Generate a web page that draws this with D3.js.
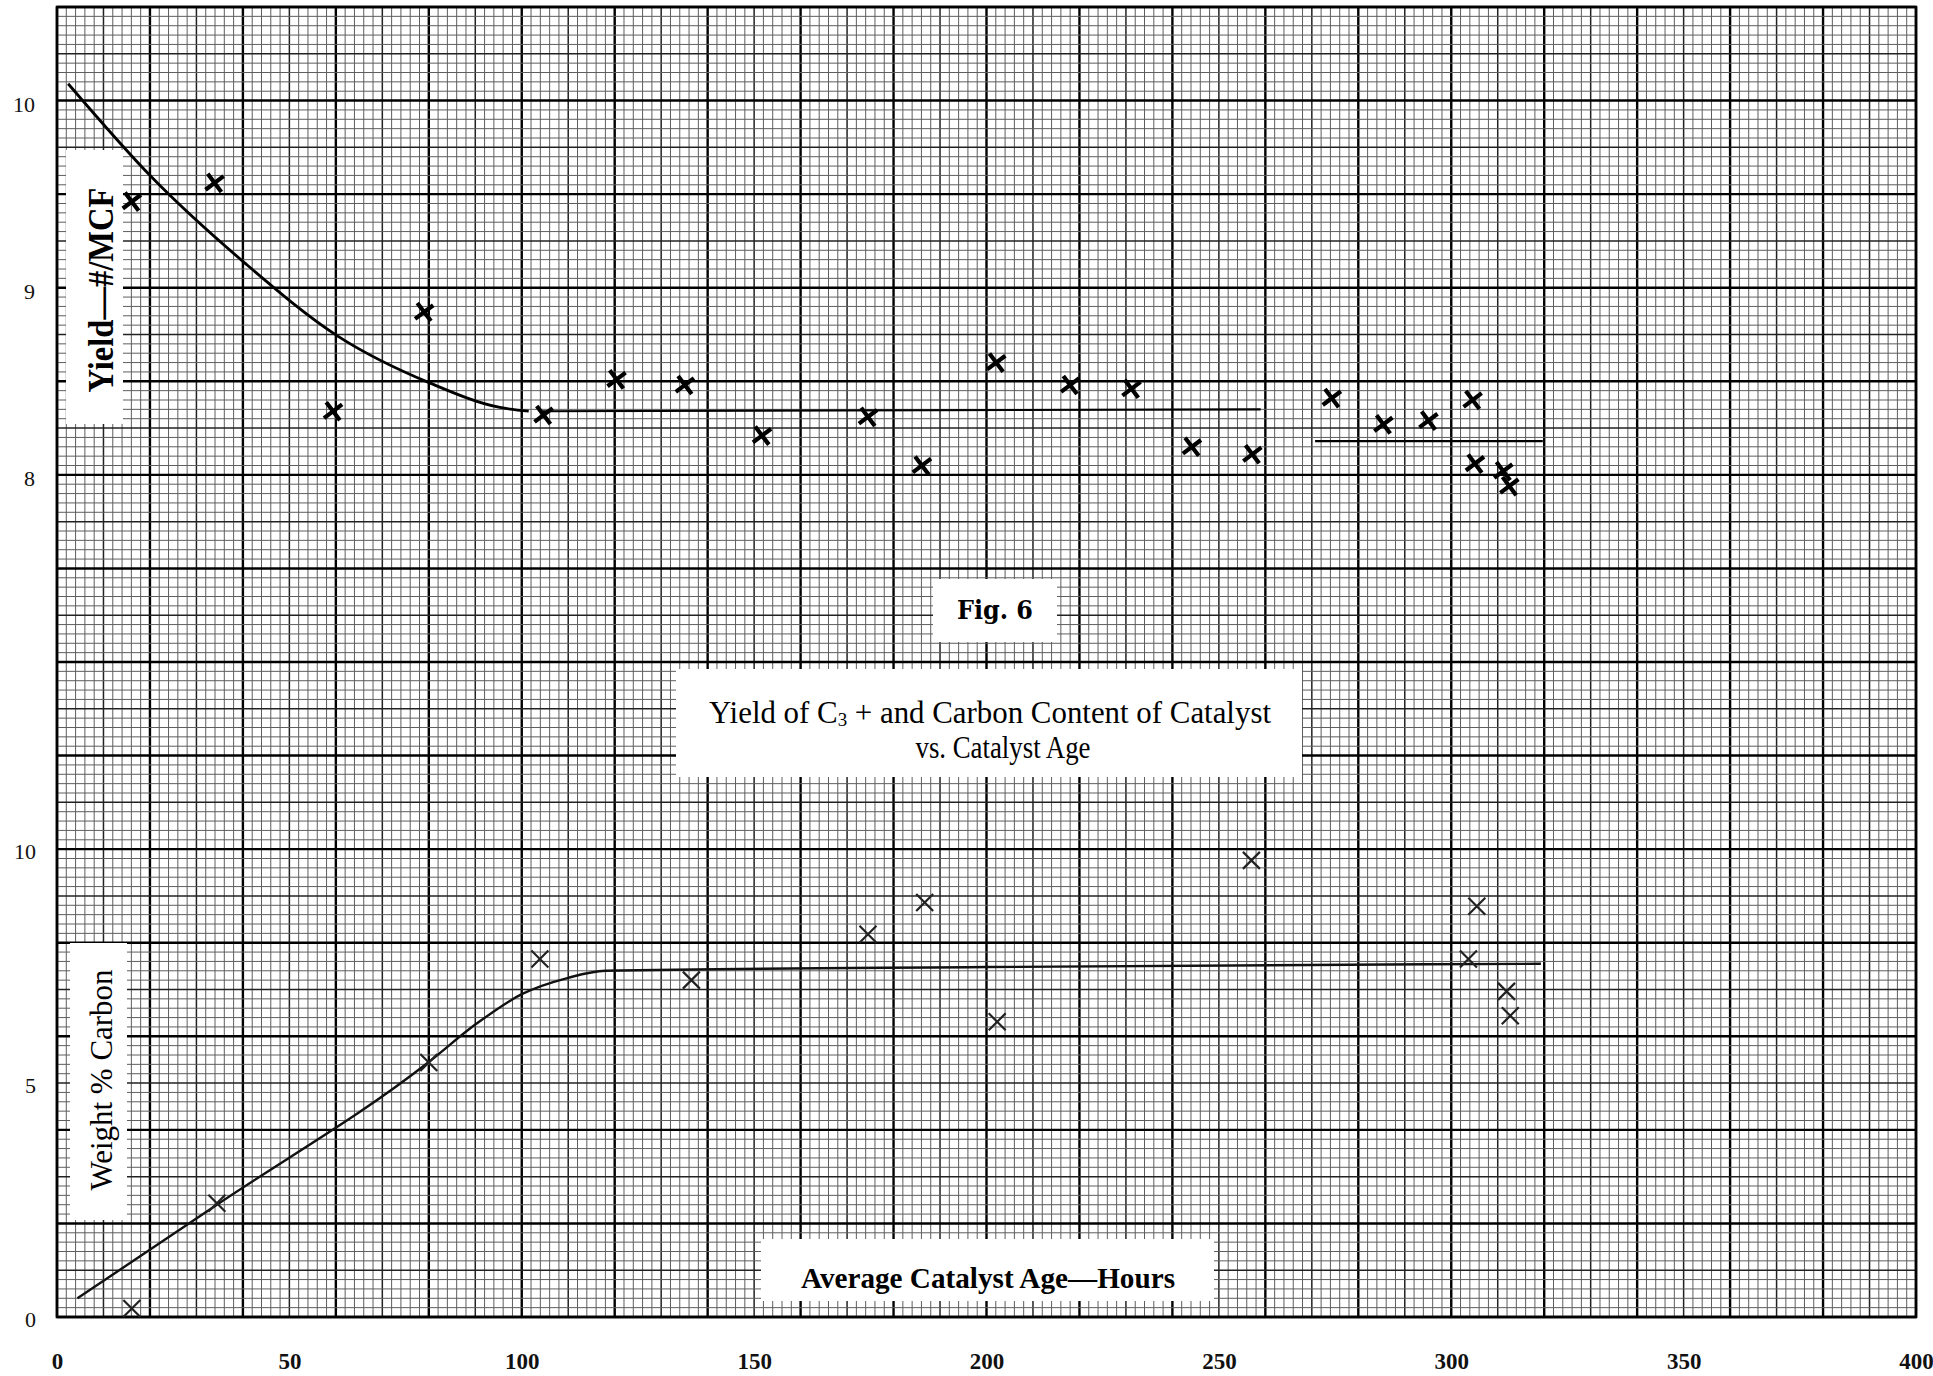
<!DOCTYPE html>
<html>
<head>
<meta charset="utf-8">
<script src="https://cdn.jsdelivr.net/npm/d3@7"></script>
<style>
  body { margin: 0; background: #fff; }
  svg { display: block; }
</style>
</head>
<body>
<div id="chart"></div>
<script>
// Catalyst age (hours) and yield of C3+ (#/MCF)
var ageYield = [16.1, 33.9, 59.4, 79.0, 104.7, 120.4, 135.1, 151.7, 174.5, 186.1, 202.1,
                218.0, 231.2, 244.2, 257.2, 274.3, 285.4, 295.1, 304.6, 305.1, 311.2, 312.5];
var yieldVals = [9.46, 9.56, 8.34, 8.87, 8.32, 8.51, 8.48, 8.21, 8.31, 8.05, 8.60,
                 8.48, 8.46, 8.15, 8.11, 8.41, 8.27, 8.29, 8.40, 8.06, 8.02, 7.94];

// Catalyst age (hours) and weight % carbon
var ageCarbon = [16.1, 34.4, 80.0, 103.9, 136.5, 174.5, 186.7, 202.3, 257.0, 303.7, 305.5, 311.9, 312.7];
var carbonVals = [0.18, 2.43, 5.44, 7.65, 7.20, 8.18, 8.86, 6.31, 9.76, 7.65, 8.78, 6.96, 6.44];

// hand drawn fit lines
var yieldCurveAge = [2.4, 20.4, 40.5, 60.5, 80.3, 95.3, 101.5];
var yieldCurveVals = [10.09, 9.59, 9.13, 8.74, 8.49, 8.36, 8.34];
var yieldFlatAge = [104.5, 259];
var yieldFlatVals = [8.34, 8.35];
var yieldLateAge = [270.7, 319.7];
var yieldLateVals = [8.18, 8.18];
var carbonCurveAge = [4.4, 34.4, 80, 90, 100, 110, 118, 200, 319.3];
var carbonCurveVals = [0.40, 2.40, 5.45, 6.25, 6.90, 7.25, 7.40, 7.48, 7.55];

// tick labels
var xTicks = [0, 50, 100, 150, 200, 250, 300, 350, 400];
var yieldTicks = [8, 9, 10];
var carbonTicks = [0, 5, 10];

var W = 1933, H = 1376;
var paper = {left: 57, right: 1916, top: 7, bottom: 1317};

var svg = d3.select("#chart")
            .append("svg")
            .attr("width", W)
            .attr("height", H);

svg.append("rect").attr("width", W).attr("height", H).attr("fill", "#fff");

// one major square of the paper = 20 hours, 0.5 #/MCF, 2 % carbon
var xScale = d3.scaleLinear().domain([0, 400]).range([paper.left, paper.right]);
var yieldScale = d3.scaleLinear().domain([3.5, 10.5]).range([paper.bottom, paper.top]);
var carbonScale = d3.scaleLinear().domain([0, 28]).range([paper.bottom, paper.top]);
var rowScale = d3.scaleLinear().domain([0, 140]).range([paper.bottom, paper.top]);

// graph paper: 10 small squares per major, heavier line at every 5th
function lineStyle(sel, idx) {
    sel.attr("stroke", idx % 10 == 0 ? "#000" : (idx % 5 == 0 ? "#222" : "#5e5e5e"))
       .attr("stroke-width", idx % 10 == 0 ? 2.4 : (idx % 5 == 0 ? 1.5 : 1));
}
var grid = svg.append("g").attr("class", "paper");
var cols = d3.range(0, 201);
var rows = d3.range(0, 141);
grid.selectAll(".vline")
    .data(cols)
    .enter()
    .append("line")
    .attr("x1", d => xScale(d * 2))
    .attr("x2", d => xScale(d * 2))
    .attr("y1", paper.top)
    .attr("y2", paper.bottom)
    .each(function(d){ lineStyle(d3.select(this), d) });
grid.selectAll(".hline")
    .data(rows)
    .enter()
    .append("line")
    .attr("x1", paper.left)
    .attr("x2", paper.right)
    .attr("y1", d => rowScale(d))
    .attr("y2", d => rowScale(d))
    .each(function(d){ lineStyle(d3.select(this), d) });
grid.append("rect")
    .attr("x", paper.left).attr("y", paper.top)
    .attr("width", paper.right - paper.left)
    .attr("height", paper.bottom - paper.top)
    .attr("fill", "none").attr("stroke", "#000").attr("stroke-width", 2.6);

// pasted white label boxes
var boxes = [
    {x: 66, y: 150, w: 57, h: 274},
    {x: 70, y: 943, w: 57, h: 277},
    {x: 933, y: 579, w: 124, h: 63},
    {x: 676, y: 669, w: 626, h: 108},
    {x: 761, y: 1239, w: 453, h: 62}
];
svg.append("g")
   .selectAll("rect")
   .data(boxes)
   .enter()
   .append("rect")
   .attr("x", d => d.x).attr("y", d => d.y)
   .attr("width", d => d.w).attr("height", d => d.h)
   .attr("fill", "#fff");

var serif = "'Liberation Serif', 'DejaVu Serif', serif";

svg.append("text")
   .attr("transform", "translate(113,290) rotate(-90)")
   .attr("text-anchor", "middle")
   .attr("font-family", serif).attr("font-weight", "bold").attr("font-size", 35)
   .attr("textLength", 205).attr("lengthAdjust", "spacingAndGlyphs")
   .text("Yield\u2014#/MCF");

svg.append("text")
   .attr("transform", "translate(112,1080) rotate(-90)")
   .attr("text-anchor", "middle")
   .attr("font-family", serif).attr("font-size", 32)
   .attr("textLength", 221).attr("lengthAdjust", "spacingAndGlyphs")
   .text("Weight % Carbon");

svg.append("text")
   .attr("x", 995).attr("y", 619)
   .attr("text-anchor", "middle")
   .attr("font-family", "'DejaVu Serif', serif").attr("font-weight", "bold").attr("font-size", 26)
   .attr("textLength", 76).attr("lengthAdjust", "spacingAndGlyphs")
   .text("Fig. 6");

var title = svg.append("text")
   .attr("x", 990).attr("y", 723)
   .attr("text-anchor", "middle")
   .attr("font-family", serif).attr("font-size", 31)
   .attr("textLength", 562).attr("lengthAdjust", "spacingAndGlyphs");
title.append("tspan").text("Yield of C");
title.append("tspan").attr("font-size", 19).attr("dy", 3).text("3");
title.append("tspan").attr("dy", -3).text(" + and Carbon Content of Catalyst");

svg.append("text")
   .attr("x", 1003).attr("y", 758)
   .attr("text-anchor", "middle")
   .attr("font-family", serif).attr("font-size", 31)
   .attr("textLength", 175).attr("lengthAdjust", "spacingAndGlyphs")
   .text("vs. Catalyst Age");

svg.append("text")
   .attr("x", 988).attr("y", 1288)
   .attr("text-anchor", "middle")
   .attr("font-family", serif).attr("font-weight", "bold").attr("font-size", 30)
   .attr("textLength", 374).attr("lengthAdjust", "spacingAndGlyphs")
   .text("Average Catalyst Age\u2014Hours");

// axes: only the printed numbers, no tick marks
var xAxis = svg.append("g")
               .attr("transform", "translate(0," + paper.bottom + ")")
               .call(d3.axisBottom(xScale).tickValues(xTicks).tickSize(0).tickPadding(36)
                       .tickFormat(d3.format("d")));
var yAxisTop = svg.append("g")
                  .attr("transform", "translate(" + paper.left + ",4)")
                  .call(d3.axisLeft(yieldScale).tickValues(yieldTicks).tickSize(0).tickPadding(22)
                          .tickFormat(d3.format("d")));
var yAxisBottom = svg.append("g")
                     .attr("transform", "translate(" + (paper.left + 1) + ",2)")
                     .call(d3.axisLeft(carbonScale).tickValues(carbonTicks).tickSize(0).tickPadding(22)
                             .tickFormat(d3.format("d")));
[xAxis, yAxisTop, yAxisBottom].forEach(function(ax){
    ax.select(".domain").remove();
    ax.selectAll("text")
      .attr("font-family", serif)
      .attr("font-size", 23)
      .attr("font-weight", "bold")
      .attr("fill", "#111");
});
yAxisTop.selectAll("text").attr("font-weight", "normal").attr("font-size", 22);
yAxisBottom.selectAll("text").attr("font-weight", "normal").attr("font-size", 22);

// fit lines
var yieldLine = d3.line().x(d => xScale(d[0])).y(d => yieldScale(d[1]));
var carbonLine = d3.line().x(d => xScale(d[0])).y(d => carbonScale(d[1])).curve(d3.curveMonotoneX);

svg.append("path")
   .datum(d3.zip(yieldCurveAge, yieldCurveVals))
   .attr("fill", "none").attr("stroke", "#000").attr("stroke-width", 2.8)
   .attr("d", yieldLine.curve(d3.curveMonotoneX));
svg.append("path")
   .datum(d3.zip(yieldFlatAge, yieldFlatVals))
   .attr("fill", "none").attr("stroke", "#000").attr("stroke-width", 2.2)
   .attr("d", d3.line().x(d => xScale(d[0])).y(d => yieldScale(d[1])));
svg.append("path")
   .datum(d3.zip(yieldLateAge, yieldLateVals))
   .attr("fill", "none").attr("stroke", "#000").attr("stroke-width", 2.2)
   .attr("d", d3.line().x(d => xScale(d[0])).y(d => yieldScale(d[1])));
svg.append("path")
   .datum(d3.zip(carbonCurveAge, carbonCurveVals))
   .attr("fill", "none").attr("stroke", "#111").attr("stroke-width", 2.4)
   .attr("d", carbonLine);

// plotted points
var cross = d3.symbol().type(d3.symbolTimes);
svg.append("g")
   .selectAll("path")
   .data(d3.zip(ageYield, yieldVals))
   .enter()
   .append("path")
   .attr("transform", d => "translate(" + xScale(d[0]) + "," + yieldScale(d[1]) + ") rotate(8)")
   .attr("d", cross.size(170))
   .attr("fill", "none")
   .attr("stroke", "#000")
   .attr("stroke-width", 4.2);
svg.append("g")
   .selectAll("path")
   .data(d3.zip(ageCarbon, carbonVals))
   .enter()
   .append("path")
   .attr("transform", d => "translate(" + xScale(d[0]) + "," + carbonScale(d[1]) + ")")
   .attr("d", d3.symbol().type(d3.symbolTimes).size(190))
   .attr("fill", "none")
   .attr("stroke", "#222")
   .attr("stroke-width", 2.2);
</script>
</body>
</html>
